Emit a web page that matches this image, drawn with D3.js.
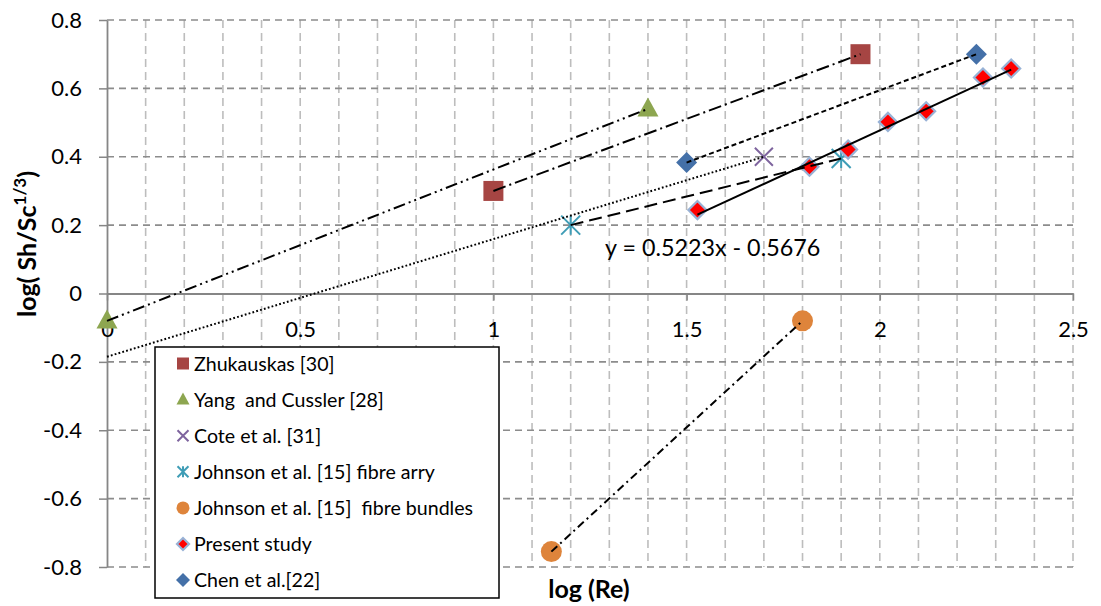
<!DOCTYPE html>
<html>
<head>
<meta charset="utf-8">
<script src="https://cdn.jsdelivr.net/npm/d3@7"></script>
<style>
  html, body { margin: 0; padding: 0; background: #fff; }
  svg { display: block; font-family: Lato, "Open Sans", sans-serif; }
  svg text { white-space: pre; }
</style>
</head>
<body>
<svg id="chart" width="1101" height="606"></svg>
<script>
// ---------- data ----------
const xTickVals = [0, 0.5, 1, 1.5, 2, 2.5];
const yTickVals = [-0.8, -0.6, -0.4, -0.2, 0, 0.2, 0.4, 0.6, 0.8];
const xTickLabels = ["0", "0.5", "1", "1.5", "2", "2.5"];
const yTickLabels = ["-0.8", "-0.6", "-0.4", "-0.2", "0", "0.2", "0.4", "0.6", "0.8"];

const zhukX = [1.0, 1.95];
const zhukY = [0.30, 0.70];
const yangX = [0, 1.4];
const yangY = [-0.08, 0.54];
const coteX = [1.7];
const coteY = [0.40];
const coteLineX = [0, 1.7];
const coteLineY = [-0.185, 0.40];
const arryX = [1.2, 1.9];
const arryY = [0.20, 0.395];
const bundX = [1.15, 1.8];
const bundY = [-0.755, -0.08];
const presentX = [1.528, 1.818, 1.918, 2.021, 2.120, 2.267, 2.340];
const presentY = [0.244, 0.371, 0.421, 0.502, 0.533, 0.632, 0.658];
const chenX = [1.5, 2.25];
const chenY = [0.383, 0.70];
const trendSlope = 0.5223;
const trendIntercept = -0.5676;

const legendNames = [
  "Zhukauskas [30]",
  "Yang  and Cussler [28]",
  "Cote et al. [31]",
  "Johnson et al. [15] fibre arry",
  "Johnson et al. [15]  fibre bundles",
  "Present study",
  "Chen et al.[22]"
];

// ---------- setup ----------
const svg = d3.select("#chart");
const L = 107, R = 1073, T = 20, B = 567;
const x = d3.scaleLinear().domain([0, 2.5]).range([L, R]);
const y = d3.scaleLinear().domain([-0.8, 0.8]).range([B, T]);

const zip = (xs, ys) => xs.map((v, i) => [v, ys[i]]);

// gridlines (vertical minor every 0.1)
const vGrid = x.ticks(25).filter(v => v > 0.001);
svg.append("g").selectAll("line").data(vGrid).join("line")
  .attr("x1", d => x(d)).attr("x2", d => x(d))
  .attr("y1", T).attr("y2", B)
  .attr("stroke", "#bdbdbd").attr("stroke-width", 1.6)
  .attr("stroke-dasharray", "8,5");

svg.append("g").selectAll("line").data(yTickVals.filter(v => Math.abs(v) > 1e-9)).join("line")
  .attr("x1", L).attr("x2", R)
  .attr("y1", d => y(d)).attr("y2", d => y(d))
  .attr("stroke", "#8c8c8c").attr("stroke-width", 1.6)
  .attr("stroke-dasharray", "7,5");

// axes
const yAxis = d3.axisLeft(y).tickValues(yTickVals)
  .tickFormat((d, i) => yTickLabels[i]).tickSize(8).tickSizeOuter(0).tickPadding(17);
const gy = svg.append("g").attr("transform", `translate(${L},0)`).call(yAxis);

const xAxis = d3.axisBottom(x).tickValues(xTickVals)
  .tickFormat((d, i) => xTickLabels[i]).tickSize(7).tickSizeOuter(0).tickPadding(21);
const gx = svg.append("g").attr("transform", `translate(0,${y(0)})`).call(xAxis);

[gx, gy].forEach(g => {
  g.select(".domain").attr("stroke", "#868686").attr("stroke-width", 1.8);
  g.selectAll(".tick line").attr("stroke", "#868686").attr("stroke-width", 1.5);
  g.selectAll(".tick text").attr("fill", "#000").style("font-size", "22px")
    .style("font-family", "Lato, 'Open Sans', sans-serif");
});

// ---------- markers ----------
function xPath(s) { const h = s / 2; return `M${-h},${-h}L${h},${h}M${-h},${h}L${h},${-h}`; }
function starPath(s) { const h = s / 2; return `M${-h},${-h}L${h},${h}M${-h},${h}L${h},${-h}M0,${-h}L0,${h}`; }
function diamondPath(s) { const h = s / 2; return `M0,${-h}L${h},0L0,${h}L${-h},0Z`; }
function squarePath(s) { const h = s / 2; return `M${-h},${-h}H${h}V${h}H${-h}Z`; }
function triPath(w, hgt) { return `M0,${-hgt * 0.6}L${w / 2},${hgt * 0.4}L${-w / 2},${hgt * 0.4}Z`; }

const markerDefs = [
  { pts: zip(zhukX, zhukY), draw: g => g.append("path").attr("d", squarePath(20)).attr("fill", "#A64543"), leg: g => g.append("path").attr("d", squarePath(12)).attr("fill", "#A64543") },
  { pts: zip(yangX, yangY), draw: g => g.append("path").attr("d", triPath(21, 19)).attr("fill", "#8DA650"), leg: g => g.append("path").attr("d", triPath(13, 12)).attr("fill", "#8DA650") },
  { pts: zip(coteX, coteY), draw: g => g.append("path").attr("d", xPath(18)).attr("stroke", "#7E649E").attr("stroke-width", 2).attr("fill", "none"), leg: g => g.append("path").attr("d", xPath(11)).attr("stroke", "#7E649E").attr("stroke-width", 2).attr("fill", "none") },
  { pts: zip(arryX, arryY), draw: g => g.append("path").attr("d", starPath(19)).attr("stroke", "#3F9DB6").attr("stroke-width", 2).attr("fill", "none"), leg: g => g.append("path").attr("d", starPath(11)).attr("stroke", "#3F9DB6").attr("stroke-width", 2).attr("fill", "none") },
  { pts: zip(bundX, bundY), draw: g => g.append("circle").attr("r", 10.5).attr("fill", "#DE843B"), leg: g => g.append("circle").attr("r", 6.5).attr("fill", "#DE843B") },
  { pts: zip(presentX, presentY), draw: g => g.append("path").attr("d", diamondPath(18)).attr("fill", "#FF0000").attr("stroke", "#98B2D6").attr("stroke-width", 2.2), leg: g => g.append("path").attr("d", diamondPath(12)).attr("fill", "#FF0000").attr("stroke", "#98B2D6").attr("stroke-width", 2.2) },
  { pts: zip(chenX, chenY), draw: g => g.append("path").attr("d", diamondPath(21)).attr("fill", "#4470A8"), leg: g => g.append("path").attr("d", diamondPath(14)).attr("fill", "#4470A8") }
];

const markG = svg.append("g");
markerDefs.forEach(def => {
  def.pts.forEach(p => {
    const g = markG.append("g").attr("transform", `translate(${x(p[0])},${y(p[1])})`);
    def.draw(g);
  });
});

// ---------- lines (trendlines on top) ----------
const line = d3.line().x(d => x(d[0])).y(d => y(d[1]));
const trendX = [d3.min(presentX), d3.max(presentX)];
const lineDefs = [
  { pts: zip(zhukX, zhukY), dash: "13,4,2,4" },
  { pts: zip(yangX, yangY), dash: "12,4,2,4,2,4" },
  { pts: zip(coteLineX, coteLineY), dash: "1.8,2.2" },
  { pts: zip(arryX, arryY), dash: "13,6" },
  { pts: zip(bundX, bundY), dash: "8,4,2,4" },
  { pts: trendX.map(v => [v, trendSlope * v + trendIntercept]), dash: null },
  { pts: zip(chenX, chenY), dash: "5,3" }
];
svg.append("g").selectAll("path").data(lineDefs).join("path")
  .attr("d", d => line(d.pts))
  .attr("fill", "none").attr("stroke", "#000").attr("stroke-width", 2)
  .attr("stroke-dasharray", d => d.dash);

// equation
svg.append("text").attr("x", 605).attr("y", 256)
  .style("font-size", "23.3px").attr("fill", "#000")
  .text(`y = ${trendSlope}x - ${Math.abs(trendIntercept)}`);

// ---------- legend ----------
const lg = svg.append("g");
lg.append("rect").attr("x", 155).attr("y", 347).attr("width", 344).attr("height", 251)
  .attr("fill", "#fff").attr("stroke", "#000").attr("stroke-width", 1.5);
const legY0 = 363.5, legDy = 36.1;
markerDefs.forEach((def, i) => {
  const cy = legY0 + i * legDy;
  def.leg(lg.append("g").attr("transform", `translate(183,${cy})`));
  lg.append("text").attr("x", 194).attr("y", cy + 7)
    .style("font-size", "19.6px").attr("fill", "#000").text(legendNames[i]);
});

// ---------- axis titles ----------
svg.append("text").attr("x", 589).attr("y", 598).attr("text-anchor", "middle")
  .style("font-size", "25px").style("font-weight", "bold").text("log (Re)");

const yt = svg.append("text").attr("transform", "translate(36,244) rotate(-90)")
  .attr("text-anchor", "middle").style("font-size", "25px").style("font-weight", "bold");
yt.append("tspan").text("log( Sh/Sc");
yt.append("tspan").attr("dy", -10).style("font-size", "17px").text("1/3");
yt.append("tspan").attr("dy", 10).text(")");
</script>
</body>
</html>
